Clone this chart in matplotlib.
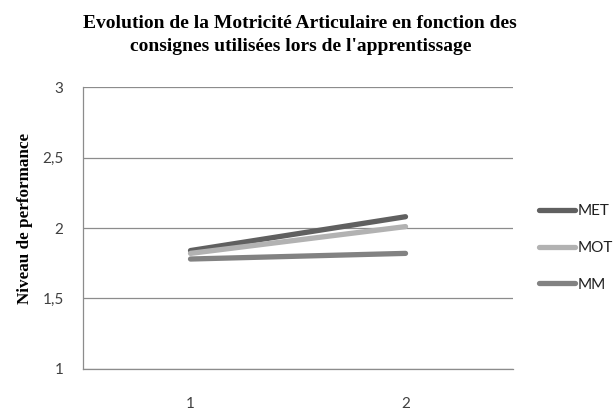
import matplotlib
matplotlib.use('Agg')
import matplotlib.pyplot as plt

# values
categories = ['1', '2']
series_names = ['MET', 'MOT', 'MM']
met = [1.84, 2.08]
mot = [1.82, 2.01]
mm = [1.78, 1.82]
yticks = [1, 1.5, 2, 2.5, 3]
ytick_labels = ['1', '1,5', '2', '2,5', '3']

colors = ['#606060', '#b2b2b2', '#828282']

fig = plt.figure(figsize=(6.13, 4.12), dpi=100)
ax = fig.add_axes([0.1354, 0.1044, 0.7015, 0.6844])

x = [0, 1]
for name, vals, c in zip(series_names, [met, mot, mm], colors):
    ax.plot(x, vals, color=c, lw=3.8, solid_capstyle='round', label=name)

ax.set_xlim(-0.5, 1.5)
ax.set_ylim(1, 3)
ax.set_yticks(yticks)
ax.set_yticklabels(ytick_labels)
ax.set_xticks(x)
ax.set_xticklabels(categories)
ax.grid(axis='y', color='#8c8c8c', lw=0.9)
ax.set_axisbelow(True)

for s in ['top', 'right']:
    ax.spines[s].set_visible(False)
for s in ['left', 'bottom']:
    ax.spines[s].set_color('#8c8c8c')
    ax.spines[s].set_linewidth(0.9)

ax.tick_params(axis='both', length=0, labelsize=11, labelcolor='#404040')
ax.tick_params(axis='y', pad=14)
ax.tick_params(axis='x', pad=20)
for lbl in ax.get_xticklabels() + ax.get_yticklabels():
    lbl.set_family('Lato')

# axis title placed by hand, slightly above the axes centre like the original
fig.text(0.041, 0.471, 'Niveau de performance', rotation=90,
         ha='center', va='center', family='Liberation Serif',
         fontweight='bold', fontsize=12.3)

fig.text(0.49, 0.915, "Evolution de la Motricité Articulaire en fonction des\n"
         "consignes utilisées lors de l'apprentissage",
         ha='center', va='center', family='Liberation Serif',
         fontweight='bold', fontsize=14, linespacing=1.45)

# legend sits at the right edge; slightly smaller text so MOT stays inside
leg = ax.legend(loc='upper left', bbox_to_anchor=(1.047, 0.607), frameon=False,
                handlelength=2.35, handletextpad=0.15, labelspacing=1.5,
                prop={'family': 'Lato', 'size': 11}, borderaxespad=0)
for t in leg.get_texts():
    t.set_color('#202020')

fig.savefig('out.png', dpi=100)
